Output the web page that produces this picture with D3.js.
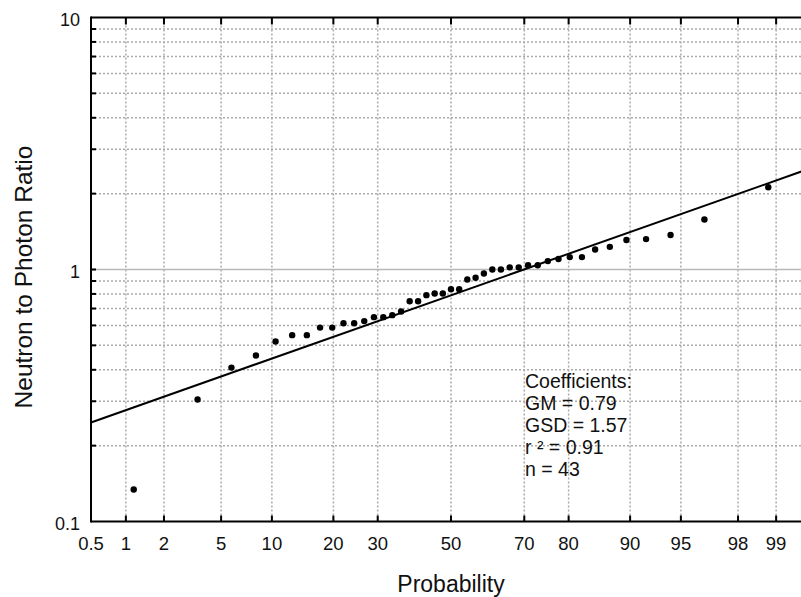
<!DOCTYPE html>
<html>
<head>
<meta charset="utf-8">
<script src="https://cdn.jsdelivr.net/npm/d3@7"></script>
<style>
  html, body { margin: 0; padding: 0; background: #fff; }
  svg { display: block; font-family: "Liberation Sans", Arial, sans-serif; }
</style>
</head>
<body>
<svg id="chart" width="801" height="597"></svg>
<script>
// Cumulative probability (%) of each ranked sample and its measured ratio
const probability = [1.16, 3.49, 5.81, 8.14, 10.47, 12.79, 15.12, 17.44, 19.77, 22.09,
  24.42, 26.74, 29.07, 31.40, 33.72, 36.05, 38.37, 40.70, 43.02, 45.35,
  47.67, 50.00, 52.33, 54.65, 56.98, 59.30, 61.63, 63.95, 66.28, 68.60,
  70.93, 73.26, 75.58, 77.91, 80.23, 82.56, 84.88, 87.21, 89.53, 91.86,
  94.19, 96.51, 98.84];
const ratio = [0.134, 0.305, 0.408, 0.456, 0.518, 0.549, 0.549, 0.588, 0.588, 0.612,
  0.612, 0.624, 0.647, 0.647, 0.659, 0.681, 0.748, 0.748, 0.791, 0.803,
  0.803, 0.835, 0.835, 0.913, 0.927, 0.964, 1.00, 1.00, 1.02, 1.02,
  1.04, 1.04, 1.08, 1.10, 1.12, 1.12, 1.20, 1.23, 1.31, 1.32,
  1.37, 1.58, 2.12];

// Axis ticks
const probTicks = [0.5, 1, 2, 5, 10, 20, 30, 50, 70, 80, 90, 95, 98, 99];
const probTickLabels = ["0.5", "1", "2", "5", "10", "20", "30", "50", "70", "80", "90", "95", "98", "99"];
const ratioTicks = [0.1, 1, 10];
const ratioTickLabels = ["0.1", "1", "10"];
const ratioMinor = [0.2, 0.3, 0.4, 0.5, 0.6, 0.7, 0.8, 0.9, 2, 3, 4, 5, 6, 7, 8, 9];

// Lognormal fit coefficients
const coefLabels = ["Coefficients:", "GM = 0.79", "GSD = 1.57", "r \u00b2 = 0.91", "n = 43"];
const GM = 0.79;
const GSD = 1.57;

// Inverse standard normal CDF (Acklam's rational approximation)
function probit(p) {
  const a = [-3.969683028665376e+01, 2.209460984245205e+02, -2.759285104469687e+02,
             1.383577518672690e+02, -3.066479806614716e+01, 2.506628277459239e+00];
  const b = [-5.447609879822406e+01, 1.615858368580409e+02, -1.556989798598866e+02,
             6.680131188771972e+01, -1.328068155288572e+01];
  const c = [-7.784894002430293e-03, -3.223964580411365e-01, -2.400758277161838e+00,
             -2.549732539343734e+00, 4.374664141464968e+00, 2.938163982698783e+00];
  const d = [7.784695709041462e-03, 3.224671290700398e-01, 2.445134137142996e+00,
             3.754408661907416e+00];
  const pl = 0.02425, ph = 1 - pl;
  let q, r;
  if (p < pl) {
    q = Math.sqrt(-2 * Math.log(p));
    return (((((c[0]*q+c[1])*q+c[2])*q+c[3])*q+c[4])*q+c[5]) /
           ((((d[0]*q+d[1])*q+d[2])*q+d[3])*q+1);
  } else if (p <= ph) {
    q = p - 0.5; r = q * q;
    return (((((a[0]*r+a[1])*r+a[2])*r+a[3])*r+a[4])*r+a[5])*q /
           (((((b[0]*r+b[1])*r+b[2])*r+b[3])*r+b[4])*r+1);
  } else {
    q = Math.sqrt(-2 * Math.log(1 - p));
    return -(((((c[0]*q+c[1])*q+c[2])*q+c[3])*q+c[4])*q+c[5]) /
            ((((d[0]*q+d[1])*q+d[2])*q+d[3])*q+1);
  }
}

const svg = d3.select("#chart");
const plotLeft = 91, plotRight = 811, plotTop = 17.5, plotBottom = 521.5;

// Probability scale: linear in normal quantile
const zScale = d3.scaleLinear().domain([probit(0.005), probit(0.995)]).range([plotLeft, plotRight]);
const x = p => zScale(probit(p / 100));
const y = d3.scaleLog().domain([0.1, 10]).range([plotBottom, plotTop]);

const gridColor = "#aaaaaa";
const textColor = "#111";

// Horizontal minor grid
svg.append("g").selectAll("line").data(ratioMinor).join("line")
  .attr("x1", plotLeft).attr("x2", plotRight)
  .attr("y1", d => y(d)).attr("y2", d => y(d))
  .attr("stroke", gridColor).attr("stroke-width", 1.5)
  .attr("stroke-dasharray", "2,2");

// Vertical grid
svg.append("g").selectAll("line").data(probTicks.slice(1)).join("line")
  .attr("x1", d => x(d)).attr("x2", d => x(d))
  .attr("y1", plotTop).attr("y2", plotBottom)
  .attr("stroke", gridColor).attr("stroke-width", 1.5)
  .attr("stroke-dasharray", "2,2");

// Reference line at ratio = 1
svg.append("line")
  .attr("x1", plotLeft).attr("x2", plotRight)
  .attr("y1", y(1)).attr("y2", y(1))
  .attr("stroke", "#b8b8b8").attr("stroke-width", 1.6);

// Fitted lognormal line
const zDom = zScale.domain();
svg.append("line")
  .attr("x1", zScale(zDom[0])).attr("x2", zScale(zDom[1]))
  .attr("y1", y(GM * Math.pow(GSD, zDom[0])))
  .attr("y2", y(GM * Math.pow(GSD, zDom[1])))
  .attr("stroke", "#000").attr("stroke-width", 2);

// Data points
svg.append("g").selectAll("circle").data(probability).join("circle")
  .attr("cx", d => x(d))
  .attr("cy", (d, i) => y(ratio[i]))
  .attr("r", 3.2)
  .attr("fill", "#000");

// Frame: top, left, bottom
const axis = svg.append("g").attr("stroke", "#000").attr("stroke-width", 2).attr("fill", "none");
axis.append("line").attr("x1", plotLeft).attr("x2", plotRight).attr("y1", plotTop).attr("y2", plotTop);
axis.append("line").attr("x1", plotLeft).attr("x2", plotLeft).attr("y1", plotTop - 1).attr("y2", plotBottom + 1);
axis.append("line").attr("x1", plotLeft).attr("x2", plotRight).attr("y1", plotBottom).attr("y2", plotBottom);

// Inward tick marks
axis.selectAll(".tt").data(probTicks.slice(1)).join("line").attr("class", "tt")
  .attr("x1", d => x(d)).attr("x2", d => x(d)).attr("y1", plotTop).attr("y2", plotTop + 7);
axis.selectAll(".bt").data(probTicks.slice(1)).join("line").attr("class", "bt")
  .attr("x1", d => x(d)).attr("x2", d => x(d)).attr("y1", plotBottom).attr("y2", plotBottom - 6);
axis.selectAll(".lt").data(ratioMinor.concat([1])).join("line").attr("class", "lt")
  .attr("x1", plotLeft).attr("x2", plotLeft + 5).attr("y1", d => y(d)).attr("y2", d => y(d));

// Tick labels
svg.append("g").selectAll("text").data(probTicks).join("text")
  .attr("x", d => x(d)).attr("y", 550)
  .attr("text-anchor", "middle").attr("font-size", 18.5).attr("fill", textColor)
  .text((d, i) => probTickLabels[i]);

svg.append("g").selectAll("text").data(ratioTicks).join("text")
  .attr("x", 80).attr("y", d => y(d) + 8.5)
  .attr("text-anchor", "end").attr("font-size", 18).attr("fill", textColor)
  .text((d, i) => ratioTickLabels[i]);

// Axis titles
svg.append("text")
  .attr("x", 451).attr("y", 592)
  .attr("text-anchor", "middle").attr("font-size", 23).attr("fill", textColor)
  .text("Probability");

svg.append("text")
  .attr("transform", "translate(32,277) rotate(-90)")
  .attr("text-anchor", "middle").attr("font-size", 24.5).attr("fill", textColor)
  .text("Neutron to Photon Ratio");

// Fit coefficients
svg.append("g").selectAll("text").data(coefLabels).join("text")
  .attr("x", 525).attr("y", (d, i) => 388 + i * 22)
  .attr("font-size", 19.5).attr("fill", textColor)
  .text(d => d);
</script>
</body>
</html>
